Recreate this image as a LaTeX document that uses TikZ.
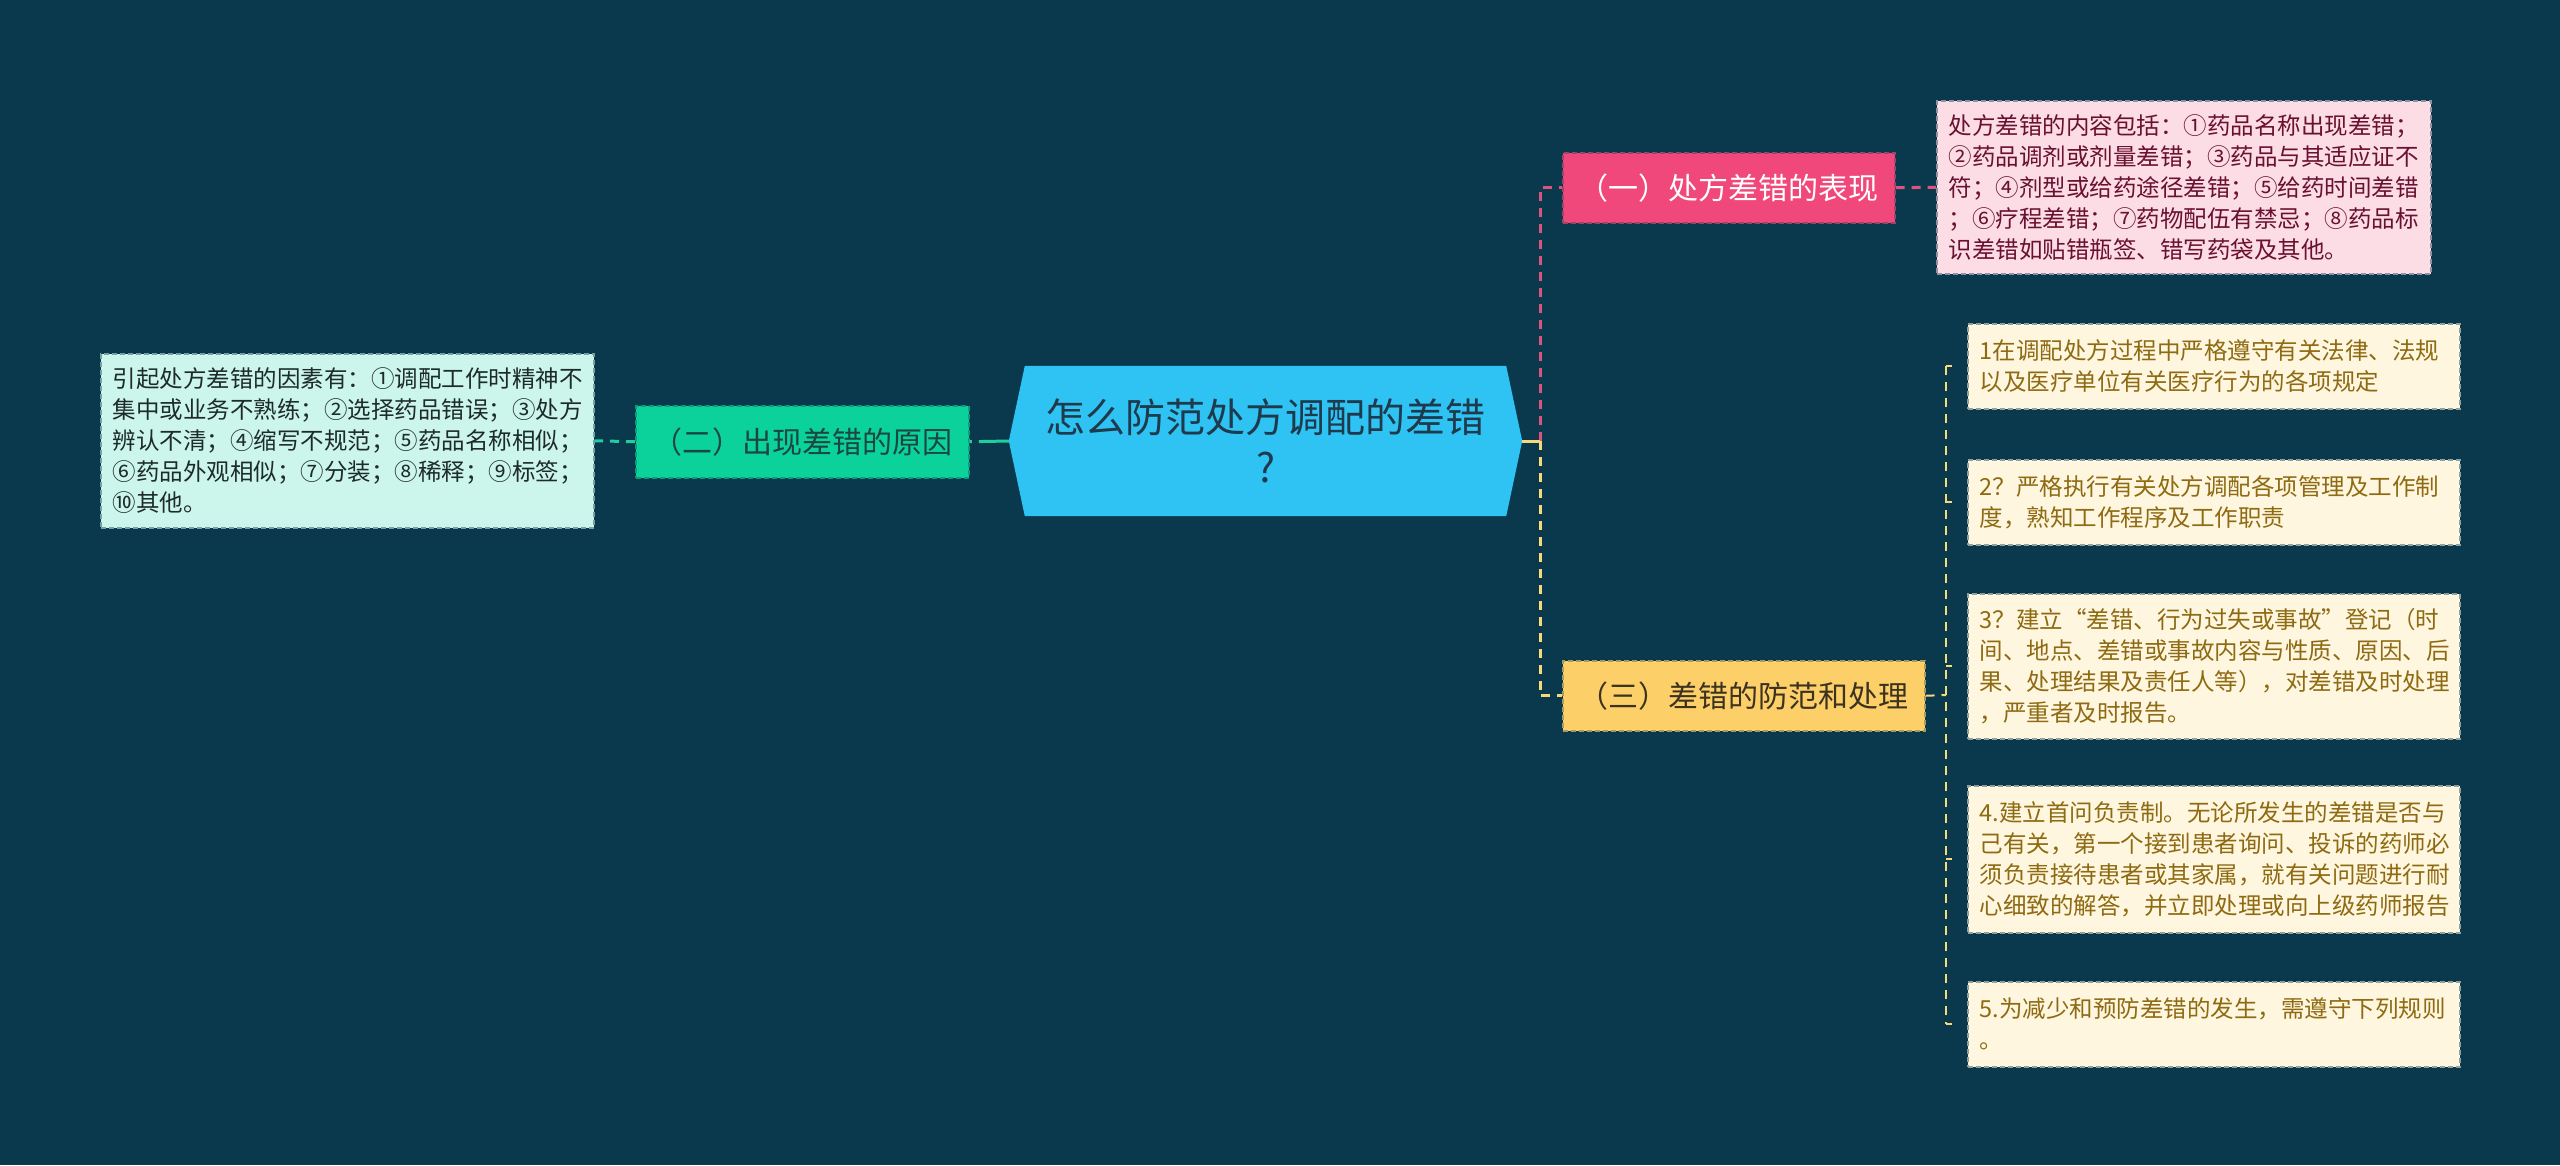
\documentclass[tikz,border=0pt]{standalone}
\usepackage{fontspec}
\setmainfont{Noto Sans CJK SC}
\usetikzlibrary{calc}
\definecolor{bg}{HTML}{0A394D}
\definecolor{cfill}{HTML}{2EC3F3}
\definecolor{ctext}{HTML}{1E3A4C}
\definecolor{gfill}{HTML}{0BD29B}
\definecolor{gtext}{HTML}{1B4642}
\definecolor{glfill}{HTML}{CCF5EC}
\definecolor{gltext}{HTML}{1E2B2B}
\definecolor{pfill}{HTML}{F0487A}
\definecolor{plfill}{HTML}{FCDDE5}
\definecolor{pltext}{HTML}{6A1030}
\definecolor{yfill}{HTML}{FDCF69}
\definecolor{ytext}{HTML}{3B3320}
\definecolor{ylfill}{HTML}{FEF6DE}
\definecolor{yltext}{HTML}{8E6A12}
\definecolor{tline}{HTML}{1FCFA0}
\definecolor{pline}{HTML}{D9557F}
\definecolor{yline}{HTML}{F7D87A}
\tikzset{
  boxborder/.style={dash pattern=on 5pt off 3pt, line width=1.5pt},
  mainbox/.style={boxborder, minimum height=70pt, inner xsep=16pt, font=\fontsize{30}{36}\selectfont, anchor=north west},
  leafbox/.style={boxborder, inner xsep=12pt, inner ysep=0pt, align=left, font=\fontsize{23.5}{31}\selectfont, anchor=north west},
  conn/.style={line width=3pt},
  dconn/.style={line width=3pt, dash pattern=on 9pt off 7pt},
}
\begin{document}
\begin{tikzpicture}[x=1pt,y=-1pt]
\fill[bg] (0,0) rectangle (2560,1165);
\useasboundingbox (0,0) rectangle (2560,1165);

% central topic
\node[minimum width=513pt, minimum height=150pt, inner sep=0pt] (c) at (1265.5,441) {};
\fill[cfill] ($(c.north west)+(16,0)$) -- ($(c.north east)+(-16,0)$) -- (c.east) -- ($(c.south east)+(-16,0)$) -- ($(c.south west)+(16,0)$) -- (c.west) -- cycle;
\node[text=ctext, align=center, font=\fontsize{40}{50}\selectfont] (ct) at (c.center) {怎么防范处方调配的差错\\?};

% left branch
\node[mainbox, draw=gfill!65!bg, fill=gfill, text=gtext, minimum width=333pt, minimum height=72pt] (n2) at (635,405) {（二）出现差错的原因};
\node[leafbox, draw=glfill!55!bg, fill=glfill, text=gltext, text width=469pt, minimum height=174pt] (l2) at (100,353) {引起处方差错的因素有：①调配工作时精神不\\集中或业务不熟练；②选择药品错误；③处方\\辨认不清；④缩写不规范；⑤药品名称相似；\\⑥药品外观相似；⑦分装；⑧稀释；⑨标签；\\⑩其他。};

% right branches
\node[mainbox, draw=pfill!65!bg, fill=pfill, text=white, minimum width=332pt] (n1) at (1562,152) {（一）处方差错的表现};
\node[leafbox, draw=plfill!55!bg, fill=plfill, text=pltext, text width=470pt, minimum height=173pt] (p1) at (1936,100) {处方差错的内容包括：①药品名称出现差错；\\②药品调剂或剂量差错；③药品与其适应证不\\符；④剂型或给药途径差错；⑤给药时间差错\\；⑥疗程差错；⑦药物配伍有禁忌；⑧药品标\\识差错如贴错瓶签、错写药袋及其他。};

\node[mainbox, draw=yfill!65!bg, fill=yfill, text=ytext, minimum width=361pt] (n3) at (1562,660) {（三）差错的防范和处理};

\node[leafbox, draw=ylfill!55!bg, fill=ylfill, text=yltext, text width=468pt, minimum height=85pt] (y1) at (1967,323) {1在调配处方过程中严格遵守有关法律、法规\\以及医疗单位有关医疗行为的各项规定};
\node[leafbox, draw=ylfill!55!bg, fill=ylfill, text=yltext, text width=468pt, minimum height=85pt] (y2) at (1967,459) {2？严格执行有关处方调配各项管理及工作制\\度，熟知工作程序及工作职责};
\node[leafbox, draw=ylfill!55!bg, fill=ylfill, text=yltext, text width=468pt, minimum height=145pt] (y3) at (1967,593) {3？建立“差错、行为过失或事故”登记（时\\间、地点、差错或事故内容与性质、原因、后\\果、处理结果及责任人等），对差错及时处理\\，严重者及时报告。};
\node[leafbox, draw=ylfill!55!bg, fill=ylfill, text=yltext, text width=468pt, minimum height=147pt] (y4) at (1967,785) {4.建立首问负责制。无论所发生的差错是否与\\己有关，第一个接到患者询问、投诉的药师必\\须负责接待患者或其家属，就有关问题进行耐\\心细致的解答，并立即处理或向上级药师报告};
\node[leafbox, draw=ylfill!55!bg, fill=ylfill, text=yltext, text width=468pt, minimum height=85pt] (y5) at (1967,981) {5.为减少和预防差错的发生，需遵守下列规则\\。};

% connectors
\draw[line width=3pt, tline, dash pattern=on 30pt off 7pt on 4pt off 10pt] (c.west) -- (n2.east);
\draw[dconn, tline] (n2.west) -- (l2.east);

\coordinate (j) at (1540,441);
\draw[dconn, pline] (j) |- (n1.west);
\draw[dconn, yline] (j) |- (n3.west);
\draw[conn, yline] (c.east) -- (j);
\draw[dconn, pline] (n1.east) -- (p1.west);

\coordinate (k) at (1946,695);
\draw[dconn, yline, line width=2pt] (n3.east) -- (k);
\draw[dconn, yline, line width=2pt] (k|-y1.west) -- (k|-y5.west);
\foreach \n in {y1,y2,y3,y4,y5}{
  \draw[yline, line width=2pt] (k|-\n.west) -- ++(6,0);
}
\end{tikzpicture}
\end{document}
